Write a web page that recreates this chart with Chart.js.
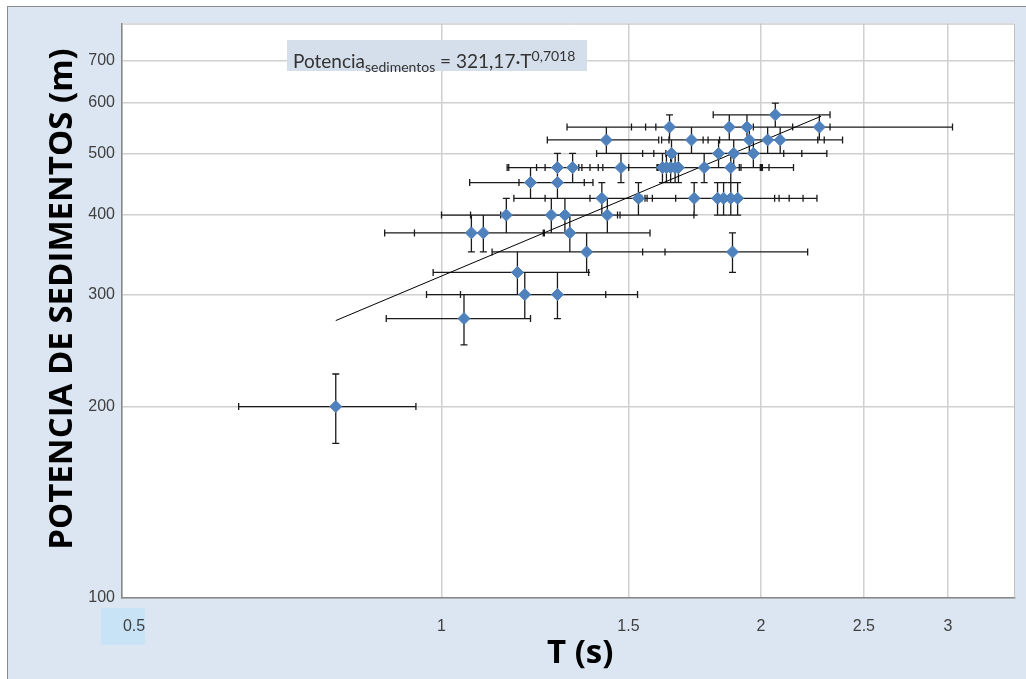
<!DOCTYPE html>
<html>
<head>
<meta charset="utf-8">
<script src="https://cdn.jsdelivr.net/npm/chart.js@4.4.1/dist/chart.umd.min.js"></script>
<style>
  html, body { margin: 0; padding: 0; background: #fff; width: 1026px; height: 679px; overflow: hidden; }
  #frame { position: absolute; left: 7px; top: 6px; width: 1019px; height: 673px;
           border-left: 1px solid #8c8c8c; border-top: 1px solid #8c8c8c; background: #dce6f2; }
  #chart { position: absolute; left: 0; top: 0; }
  #eq { position: absolute; left: 279px; top: 33px; width: 300px; height: 31px; box-sizing: border-box;
        padding-left: 6px; background: #d5dfeb; color: #333; font-family: Lato, sans-serif;
        font-size: 19px; line-height: 31px; white-space: nowrap; }
  #eq .sub { font-size: 14px; vertical-align: -4px; }
  #eq .sup { font-size: 14px; vertical-align: 7px; }
</style>
</head>
<body>
<div id="frame">
  <canvas id="chart" width="1018" height="672"></canvas>
  <div id="eq">Potencia<span class="sub">sedimentos</span> = 321,17·T<span class="sup">0,7018</span></div>
</div>
<script>
// T (s), potencia (m) and the half width of the T error bar, one entry per point
var tValues = [0.795, 1.050, 1.198, 1.286, 1.179, 1.370, 1.880, 1.067, 1.095, 1.321,
               1.151, 1.269, 1.307, 1.433, 1.416, 1.533, 1.730, 1.820, 1.844, 1.873,
               1.901, 1.213, 1.286, 1.286, 1.329, 1.476, 1.615, 1.629, 1.644, 1.660,
               1.672, 1.768, 1.873, 1.647, 1.824, 1.885, 1.967, 1.430, 1.720, 1.950,
               2.029, 2.085, 1.640, 1.867, 1.940, 2.270, 2.063];
var potValues = [200, 275, 300, 300, 325, 350, 350, 375, 375, 375,
                 400, 400, 400, 400, 425, 425, 425, 425, 425, 425,
                 425, 450, 450, 475, 475, 475, 475, 475, 475, 475,
                 475, 475, 475, 500, 500, 500, 500, 525, 525, 525,
                 525, 525, 550, 550, 550, 550, 575];
var tErr = [0.151, 0.163, 0.230, 0.244, 0.197, 0.254, 0.333, 0.183, 0.152, 0.251,
            0.151, 0.204, 0.158, 0.296, 0.246, 0.281, 0.350, 0.240, 0.282, 0.318,
            0.357, 0.150, 0.103, 0.133, 0.172, 0.120, 0.386, 0.377, 0.264, 0.255,
            0.325, 0.267, 0.273, 0.247, 0.277, 0.300, 0.340, 0.172, 0.108, 0.312,
            0.265, 0.302, 0.327, 0.275, 0.383, 0.760, 0.260];
var potErr = 25;

// power trend line end points
var trendT = [0.795, 2.278];
var trendPot = [273, 572];

var tTicks = [0.5, 1, 1.5, 2, 2.5, 3];
var potTicks = [100, 200, 300, 400, 500, 600, 700];

var points = tValues.map(function (t, i) { return { x: t, y: potValues[i] }; });
var trend = trendT.map(function (t, i) { return { x: t, y: trendPot[i] }; });

var tickFont = { family: '"Liberation Sans", Arial, sans-serif', size: 16 };

var errorBars = {
  id: 'errorBars',
  beforeDraw: function (chart) {
    var ctx = chart.ctx, a = chart.chartArea;
    ctx.save();
    ctx.fillStyle = '#fff';
    ctx.fillRect(a.left, a.top, a.right - a.left, a.bottom - a.top);
    // selection highlight behind the 0.5 label
    ctx.fillStyle = '#c8e2f6';
    ctx.fillRect(93, 601, 44, 37);
    ctx.restore();
  },
  beforeDatasetsDraw: function (chart) {
    var ctx = chart.ctx, a = chart.chartArea;
    var x = chart.scales.x, y = chart.scales.y;
    var cap = 3.5;
    ctx.save();
    ctx.strokeStyle = '#bfbfbf';
    ctx.lineWidth = 1;
    ctx.beginPath();
    ctx.moveTo(a.left, a.top + 0.5);
    ctx.lineTo(a.right - 0.5, a.top + 0.5);
    ctx.lineTo(a.right - 0.5, a.bottom);
    ctx.stroke();

    ctx.strokeStyle = '#1a1a1a';
    ctx.lineWidth = 1.3;
    ctx.beginPath();
    tValues.forEach(function (t, i) {
      var p = potValues[i];
      var px = x.getPixelForValue(t), py = y.getPixelForValue(p);
      var x1 = x.getPixelForValue(t - tErr[i]), x2 = x.getPixelForValue(t + tErr[i]);
      var y1 = y.getPixelForValue(p + potErr), y2 = y.getPixelForValue(p - potErr);
      ctx.moveTo(x1, py); ctx.lineTo(x2, py);
      ctx.moveTo(x1, py - cap); ctx.lineTo(x1, py + cap);
      ctx.moveTo(x2, py - cap); ctx.lineTo(x2, py + cap);
      ctx.moveTo(px, y1); ctx.lineTo(px, y2);
      ctx.moveTo(px - cap, y1); ctx.lineTo(px + cap, y1);
      ctx.moveTo(px - cap, y2); ctx.lineTo(px + cap, y2);
    });
    ctx.stroke();
    ctx.restore();
  },
  afterDraw: function (chart) {
    var ctx = chart.ctx;
    ctx.save();
    ctx.fillStyle = '#000';
    ctx.font = 'bold 33px "Open Sans", sans-serif';
    ctx.textBaseline = 'alphabetic';
    ctx.textAlign = 'left';
    ctx.fillText('T (s)', 539, 656);
    ctx.translate(64, 292);
    ctx.rotate(-Math.PI / 2);
    ctx.textAlign = 'center';
    ctx.fillText('POTENCIA DE SEDIMENTOS (m)', 0, 0);
    ctx.restore();
  }
};

var ctx = document.getElementById('chart').getContext('2d');
var myChart = new Chart(ctx, {
  type: 'scatter',
  data: {
    datasets: [
      {
        label: 'Potencia',
        data: points,
        order: 0,
        pointStyle: 'rectRot',
        pointRadius: 6,
        backgroundColor: '#4f81bd',
        borderColor: '#4f81bd',
        borderWidth: 1
      },
      {
        label: 'Tendencia',
        data: trend,
        order: 1,
        showLine: true,
        pointRadius: 0,
        borderColor: '#000',
        borderWidth: 1
      }
    ]
  },
  options: {
    responsive: false,
    animation: false,
    layout: { padding: { top: 15, right: 11, left: 0, bottom: 0 } },
    plugins: { legend: { display: false }, tooltip: { enabled: false } },
    scales: {
      x: {
        type: 'logarithmic',
        min: 0.5,
        max: 3.47,
        afterBuildTicks: function (s) { s.ticks = tTicks.map(function (v) { return { value: v }; }); },
        afterFit: function (s) { s.height = 81; },
        ticks: {
          autoSkip: false, maxRotation: 0, padding: 19,
          font: tickFont, color: '#404040',
          // the first label sits right of its gridline in the original
          callback: function (v) { return v === 0.5 ? '\u2002\u2002\u20020.5' : String(v); }
        },
        grid: { color: '#d0d0d0', lineWidth: 1.5, drawTicks: false },
        border: { color: '#868686', width: 1.5 }
      },
      y: {
        type: 'logarithmic',
        min: 100,
        max: 800,
        afterBuildTicks: function (s) { s.ticks = potTicks.map(function (v) { return { value: v }; }); },
        afterFit: function (s) { s.width = 114; },
        ticks: {
          autoSkip: false, padding: 7,
          font: tickFont, color: '#404040',
          callback: function (v) { return String(v); }
        },
        grid: { color: '#d0d0d0', lineWidth: 1.5, drawTicks: false },
        border: { color: '#868686', width: 1.5 }
      }
    }
  },
  plugins: [errorBars]
});
</script>
</body>
</html>
